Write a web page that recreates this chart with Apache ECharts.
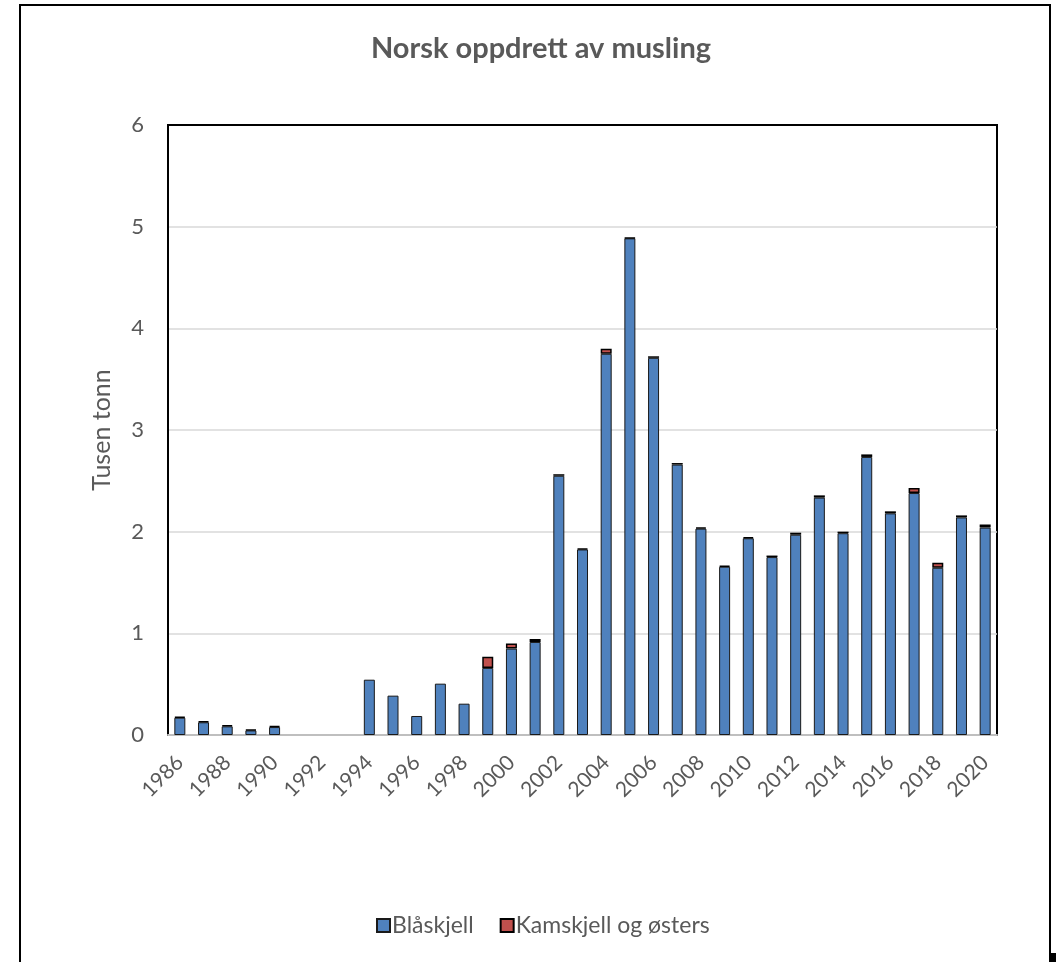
<!DOCTYPE html>
<html>
<head>
<meta charset="utf-8">
<script src="https://cdn.jsdelivr.net/npm/echarts@6/dist/echarts.min.js"></script>
<style>
html,body{margin:0;padding:0;background:#fff;}
#chart{width:1056px;height:962px;}
</style>
</head>
<body>
<div id="chart"></div>
<script>
const years = [];
for (let y = 1986; y <= 2020; y++) years.push(String(y));

const blaskjell = [0.17, 0.125, 0.085, 0.045, 0.078, 0, 0, 0, 0.544, 0.387, 0.187, 0.505, 0.308, 0.66, 0.85, 0.915, 2.55, 1.825, 3.75, 4.885, 3.71, 2.66, 2.03, 1.655, 1.935, 1.75, 1.97, 2.335, 1.985, 2.735, 2.18, 2.38, 1.645, 2.14, 2.04];
const kamskjell = [0.01, 0.01, 0.01, 0.008, 0.01, 0, 0, 0, 0, 0, 0, 0, 0, 0.11, 0.05, 0.03, 0.015, 0.01, 0.05, 0.005, 0.015, 0.015, 0.012, 0.01, 0.012, 0.015, 0.02, 0.022, 0.015, 0.025, 0.02, 0.05, 0.05, 0.02, 0.03];
const yTicks = [0, 1, 2, 3, 4, 5, 6];

const textColor = '#595959';
const font = 'Lato, "Open Sans", sans-serif';
const hideZero = arr => arr.map(v => (v === 0 ? '-' : v));

const chart = echarts.init(document.getElementById('chart'));
chart.setOption({
  animation: false,
  backgroundColor: '#fff',
  title: {
    text: 'Norsk oppdrett av musling',
    left: 536, top: 29, textAlign: 'center',
    textStyle: {fontFamily: font, fontSize: 29, fontWeight: 'bold', color: textColor}
  },
  legend: {
    bottom: 20, left: 371,
    icon: 'rect',
    itemWidth: 13, itemHeight: 13, itemGap: 26,
    textStyle: {fontFamily: font, fontSize: 23, color: textColor, padding: [0, 0, 0, -3]},
    data: ['Blåskjell', 'Kamskjell og østers']
  },
  grid: {left: 168, right: 59, top: 125, bottom: 227, show: true, borderColor: '#000', borderWidth: 2, containLabel: false},
  xAxis: {
    type: 'category', data: years,
    axisLine: {lineStyle: {color: '#bfbfbf', width: 2}},
    axisTick: {show: false},
    axisLabel: {interval: 1, rotate: 45, fontFamily: font, fontSize: 21, color: textColor, margin: 24}
  },
  yAxis: {
    type: 'value', min: yTicks[0], max: yTicks[yTicks.length - 1], interval: 1,
    name: 'Tusen tonn', nameLocation: 'middle', nameGap: 54,
    nameTextStyle: {fontFamily: font, fontSize: 25, color: textColor},
    axisLine: {show: true, lineStyle: {color: '#000', width: 2}},
    axisTick: {show: false},
    axisLabel: {fontFamily: font, fontSize: 22, color: textColor, margin: 24},
    splitLine: {showMaxLine: false, lineStyle: {color: '#d9d9d9', width: 1.5}}
  },
  series: [
    {name: 'Blåskjell', type: 'bar', stack: 'total', data: hideZero(blaskjell), barWidth: 11,
     itemStyle: {color: '#4f81bd', borderColor: '#1a1a1a', borderWidth: 1}},
    {name: 'Kamskjell og østers', type: 'bar', stack: 'total', data: hideZero(kamskjell), barWidth: 11,
     itemStyle: {color: '#c0504d', borderColor: '#000', borderWidth: 1.5}}
  ],
  graphic: [
    {type: 'polyline', shape: {points: [[20, 970], [20, 5], [1050, 5], [1050, 970]]},
     style: {stroke: '#000', lineWidth: 2, fill: null}},
    {type: 'rect', shape: {x: 1050, y: 953, width: 6, height: 9}, style: {fill: '#000'}}
  ]
});
</script>
</body>
</html>
